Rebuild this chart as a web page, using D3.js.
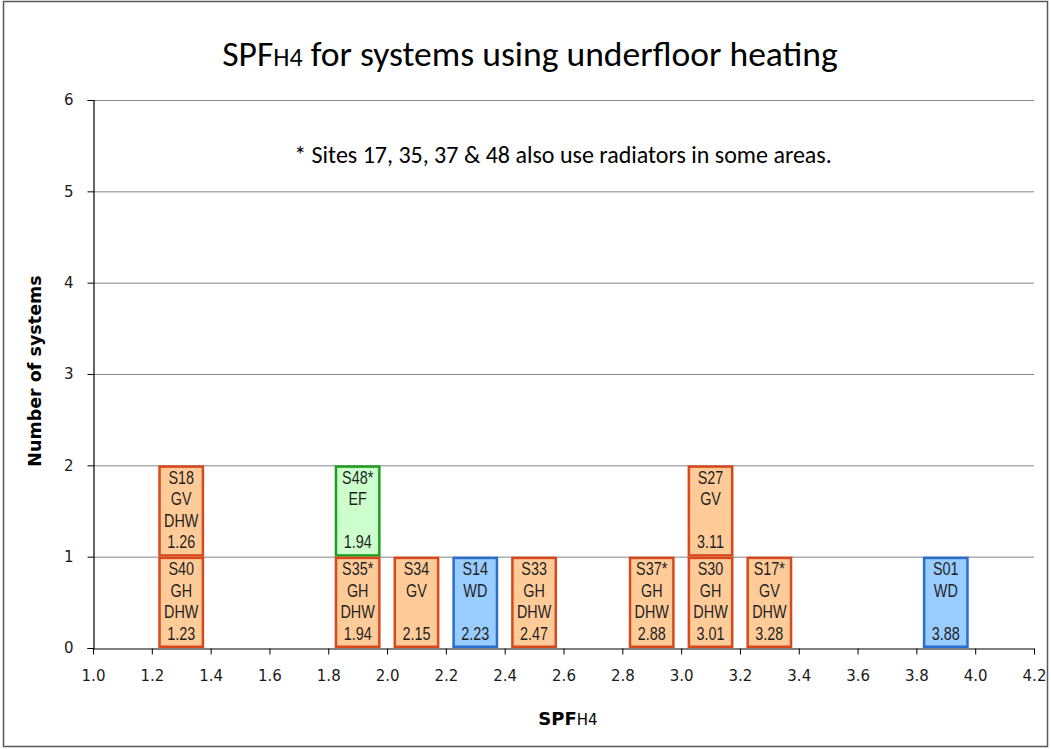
<!DOCTYPE html>
<html><head><meta charset="utf-8">
<script src="https://cdn.jsdelivr.net/npm/d3@7"></script>
<style>
body{margin:0;background:#fff;}
svg{display:block;}
</style></head>
<body>
<svg id="chart" width="1051" height="749"></svg>
<script>
// ---- data ----
const sites    = ["S40","S18","S48*","S35*","S34","S14","S33","S37*","S30","S27","S17*","S01"];
const binCenters = [1.3, 1.3, 1.9, 1.9, 2.1, 2.3, 2.5, 2.9, 3.1, 3.1, 3.3, 3.9];
const stackLevel = [0, 1, 1, 0, 0, 0, 0, 0, 0, 1, 0, 0];
const heatSource = ["GH","GV","EF","GH","GV","WD","GH","GH","GH","GV","GV","WD"];
const hasDHW     = [true,true,false,true,false,false,true,true,true,false,true,false];
const spfValues  = [1.23,1.26,1.94,1.94,2.15,2.23,2.47,2.88,3.01,3.11,3.28,3.88];
const xTicks = [1.0,1.2,1.4,1.6,1.8,2.0,2.2,2.4,2.6,2.8,3.0,3.2,3.4,3.6,3.8,4.0,4.2];
const yTicks = [0,1,2,3,4,5,6];
const boxWidth = 0.156; // in SPF units

const fills   = {GH:"#FFCC99", GV:"#FFCC99", EF:"#CCFFCC", WD:"#99CCFF"};
const strokes = {GH:"#D9481C", GV:"#D9481C", EF:"#1E9E1E", WD:"#2A6FD0"};

const svg = d3.select("#chart");
const W = 1051, H = 749;
const m = {left:93, right:1034, top:100, bottom:648};

// outer frame
svg.append("rect").attr("x",3.5).attr("y",1.5).attr("width",W-7).attr("height",H-4)
  .attr("fill","#fff").attr("stroke","#595959").attr("stroke-width",1.5);

const x = d3.scaleLinear().domain([1.0,4.2]).range([m.left,m.right]);
const y = d3.scaleLinear().domain([0,6]).range([m.bottom,m.top]);

// gridlines
svg.append("g").selectAll("line").data(yTicks.filter(d=>d>0)).join("line")
  .attr("x1",m.left).attr("x2",m.right)
  .attr("y1",d=>y(d)+0.5).attr("y2",d=>y(d)+0.5)
  .attr("stroke","#868686").attr("stroke-width",1);

// y axis
const yAxis = svg.append("g").attr("transform",`translate(${m.left+0.5},0)`)
  .call(d3.axisLeft(y).tickValues(yTicks).tickFormat(d3.format("d")).tickSize(6).tickPadding(14));
yAxis.select(".domain").attr("stroke","#000").attr("stroke-width",1.2);
yAxis.selectAll(".tick line").attr("stroke","#000");
yAxis.selectAll("text").attr("font-family","'DejaVu Sans',Verdana,sans-serif").attr("font-size",15).attr("fill","#1a1a1a");

// x axis
const xAxis = svg.append("g").attr("transform",`translate(0,${m.bottom+0.5})`)
  .call(d3.axisBottom(x).tickValues(xTicks).tickFormat(d3.format(".1f")).tickSize(6).tickPadding(16).tickSizeOuter(0));
xAxis.select(".domain").attr("stroke","#000").attr("stroke-width",1.2);
xAxis.selectAll(".tick line").attr("stroke","#000");
xAxis.selectAll("text").attr("font-family","'DejaVu Sans',Verdana,sans-serif").attr("font-size",15).attr("fill","#1a1a1a");

// boxes
const rows = sites.map((s,i)=>({site:s, c:binCenters[i], lvl:stackLevel[i], src:heatSource[i], dhw:hasDHW[i], v:spfValues[i]}));
const g = svg.append("g");
const boxes = g.selectAll("g.box").data(rows).join("g").attr("class","box");
boxes.append("rect")
  .attr("x",d=>x(d.c-boxWidth/2)+1.25)
  .attr("width",d=>x(d.c+boxWidth/2)-x(d.c-boxWidth/2)-2.5)
  .attr("y",d=>y(d.lvl+1)+1.25)
  .attr("height",d=>y(d.lvl)-y(d.lvl+1)-2.5)
  .attr("fill",d=>fills[d.src]).attr("stroke",d=>strokes[d.src]).attr("stroke-width",2.5);
boxes.each(function(d){
  const lines=[d.site,d.src,d.dhw?"DHW":"",d.v.toFixed(2)];
  const top=y(d.lvl+1);
  d3.select(this).selectAll("text").data(lines).join("text")
    .attr("transform",(t,i)=>`translate(${x(d.c)},${top+12+i*21.5}) scale(0.8,1)`)
    .attr("dy","0.36em").attr("text-anchor","middle")
    .attr("font-family","'Liberation Sans',Arial,sans-serif")
    .attr("font-size",18).attr("fill","#1f1f1f").text(t=>t);
});

// title
const title = svg.append("text").attr("x",530).attr("y",66).attr("text-anchor","middle")
  .attr("font-family","Carlito,Calibri,Lato,'Open Sans',sans-serif").attr("font-size",35.6).attr("fill","#000");
title.append("tspan").text("SPF");
title.append("tspan").attr("font-size",26).text("H4");
title.append("tspan").text(" for systems using underfloor heating");

// annotation
svg.append("text").attr("x",563).attr("y",163).attr("text-anchor","middle")
  .attr("font-family","Carlito,Calibri,Lato,'Open Sans',sans-serif").attr("font-size",24).attr("fill","#000")
  .text("* Sites 17, 35, 37 & 48 also use radiators in some areas.");

// y label
svg.append("text").attr("transform","translate(41,371) rotate(-90)").attr("text-anchor","middle")
  .attr("font-family","'DejaVu Sans',Verdana,sans-serif").attr("font-weight","bold").attr("font-size",17.5).attr("fill","#000")
  .text("Number of systems");

// x label
const xl = svg.append("text").attr("x",568).attr("y",725).attr("text-anchor","middle")
  .attr("font-family","'DejaVu Sans',Verdana,sans-serif").attr("font-weight","bold").attr("font-size",18).attr("fill","#000");
xl.append("tspan").text("SPF");
xl.append("tspan").attr("font-size",15).attr("font-weight","normal").text("H4");
</script>
</body></html>
